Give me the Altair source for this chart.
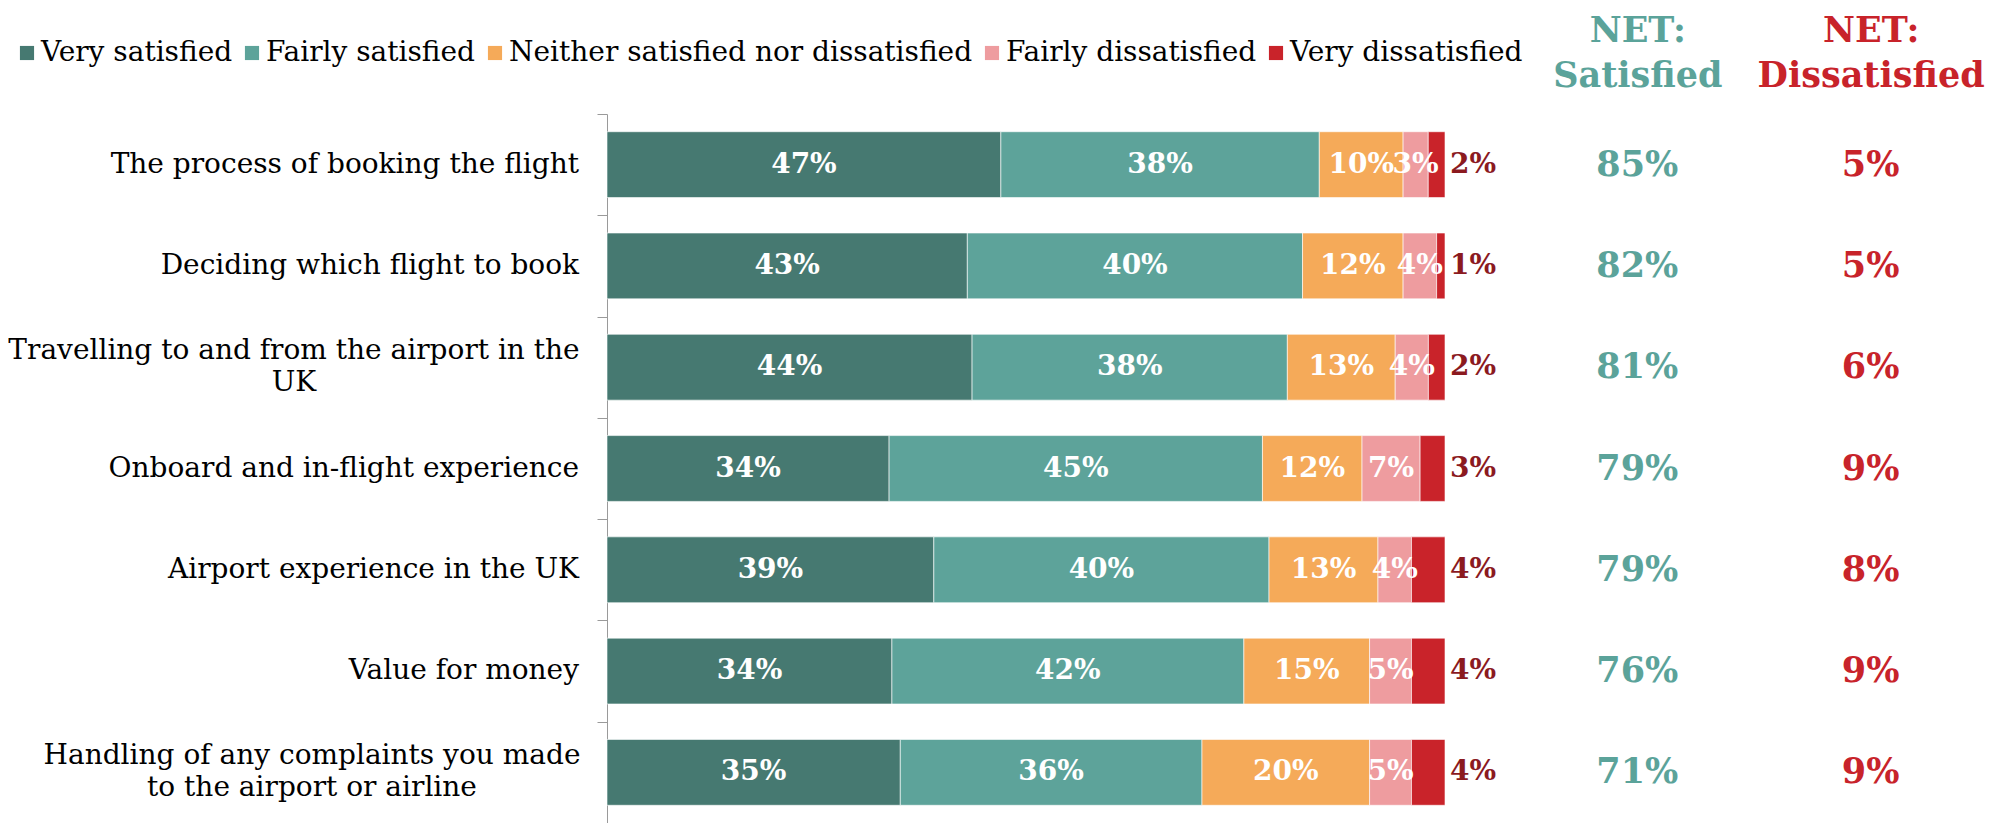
import altair as alt
import pandas as pd

categories = [
    "The process of booking the flight",
    "Deciding which flight to book",
    "Travelling to and from the airport in the\nUK",
    "Onboard and in-flight experience",
    "Airport experience in the UK",
    "Value for money",
    "Handling of any complaints you made\nto the airport or airline",
]
series = ["Very satisfied", "Fairly satisfied", "Neither satisfied nor dissatisfied",
          "Fairly dissatisfied", "Very dissatisfied"]
very_sat = [47, 43, 44, 34, 39, 34, 35]
fairly_sat = [38, 40, 38, 45, 40, 42, 36]
neither = [10, 12, 13, 12, 13, 15, 20]
fairly_dis = [3, 4, 4, 7, 4, 5, 5]
very_dis = [2, 1, 2, 3, 4, 4, 4]
net_cols = ["NET: Satisfied", "NET: Dissatisfied"]
net_sat = [85, 82, 81, 79, 79, 76, 71]
net_dis = [5, 5, 6, 9, 8, 9, 9]

colors = ["#467971", "#5DA39A", "#F5AA59", "#EE9C9F", "#C9232A"]
net_colors = ["#5BA39A", "#C8232A"]
FONT = "DejaVu Serif"
PLOT_W = 838
PLOT_H = 709
LABEL_SIZE = 28
LINE_H = 32
LABEL_GAP = 28
# half width (px) of the first line of the wrapped labels, used to centre them
wrap_half_width = {2: 285, 6: 267}
STEP = PLOT_H / len(categories)

rows = []
for i, cat in enumerate(categories):
    vals = [very_sat[i], fairly_sat[i], neither[i], fairly_dis[i], very_dis[i]]
    total = sum(vals)
    cum = 0
    for s, v in zip(series, vals):
        start = cum / total * 100
        cum += v
        end = cum / total * 100
        rows.append({"category": cat, "series": s, "value": v, "start": start,
                     "end": end, "mid": (start + end) / 2, "label": f"{v}%",
                     "last": s == series[-1]})
df = pd.DataFrame(rows)

lab_rows = []
for i, cat in enumerate(categories):
    n = len(cat.split("\n"))
    lab_rows.append({"category": cat, "multi": n > 1,
                     "yoff": STEP / 2 - (n - 1) * LINE_H / 2,
                     "xoff": -wrap_half_width.get(i, 0)})
ldf = pd.DataFrame(lab_rows)

net_rows = []
for i, cat in enumerate(categories):
    net_rows.append({"category": cat, "col": net_cols[0], "label": f"{net_sat[i]}%"})
    net_rows.append({"category": cat, "col": net_cols[1], "label": f"{net_dis[i]}%"})
ndf = pd.DataFrame(net_rows)

yscale = alt.Scale(domain=categories, paddingInner=0, paddingOuter=0)

y_main = alt.Y("category:N", sort=categories, scale=yscale,
               axis=alt.Axis(title=None, labels=False, tickBand="extent",
                             domainColor="#9a9a9a", tickColor="#9a9a9a", tickSize=10))
y_plain = alt.Y("category:N", sort=categories, scale=yscale)
xscale = alt.Scale(domain=[0, 100], nice=False, zero=False)

base = alt.Chart(df).properties(width=PLOT_W, height=PLOT_H)

bars = base.mark_bar(stroke="#ffffff", strokeWidth=1, strokeOpacity=0.6,
                     height=alt.RelativeBandSize(0.65)).encode(
    y=y_main,
    x=alt.X("start:Q", scale=xscale, axis=None),
    x2="end:Q",
    color=alt.Color("series:N", scale=alt.Scale(domain=series, range=colors),
                    legend=alt.Legend(orient="none", direction="horizontal", columns=5,
                                      legendX=-594, legendY=-75, title=None,
                                      symbolType="square", symbolSize=200,
                                      symbolStrokeWidth=0, labelFont=FONT,
                                      labelFontSize=28, labelColor="#000000",
                                      labelLimit=1000, columnPadding=5, labelOffset=0)),
)

inner_labels = base.transform_filter("!datum.last").mark_text(
    font=FONT, fontSize=28, fontWeight="bold", color="#ffffff"
).encode(y=y_plain, x=alt.X("mid:Q", scale=xscale), text="label:N")

end_labels = base.transform_filter("datum.last").mark_text(
    font=FONT, fontSize=28, fontWeight="bold", color="#8B1A1F", align="left", dx=5
).encode(y=y_plain, x=alt.X("end:Q", scale=xscale), text="label:N")

lab_base = alt.Chart(ldf).transform_calculate(lines="split(datum.category, '\\n')")

cat_single = lab_base.transform_filter("!datum.multi").mark_text(
    font=FONT, fontSize=LABEL_SIZE, color="#000000", align="right", baseline="middle"
).encode(y=y_plain, x=alt.value(-LABEL_GAP), text="lines:N")

cat_multi = lab_base.transform_filter("datum.multi").mark_text(
    font=FONT, fontSize=LABEL_SIZE, color="#000000", align="center", baseline="middle",
    lineHeight=LINE_H
).encode(y=y_plain, x=alt.value(-LABEL_GAP),
         xOffset=alt.XOffset("xoff:Q", scale=None),
         yOffset=alt.YOffset("yoff:Q", scale=None),
         text="lines:N")

main = alt.layer(bars, inner_labels, end_labels, cat_single, cat_multi)

net = alt.Chart(ndf).mark_text(font=FONT, fontSize=35, fontWeight="bold").encode(
    y=alt.Y("category:N", sort=categories, scale=yscale, axis=None),
    x=alt.X("col:N", sort=net_cols, scale=alt.Scale(type="point", padding=0.25),
            axis=alt.Axis(orient="top", title=None, labelExpr="split(datum.label, ' ')",
                          domain=False, ticks=False, labelAngle=0, labelFont=FONT,
                          labelFontSize=35, labelFontWeight="bold", labelLineHeight=45,
                          labelPadding=66, labelLimit=1000,
                          labelColor={"condition": {"test": "datum.value == 'NET: Satisfied'",
                                                    "value": net_colors[0]},
                                      "value": net_colors[1]})),
    text="label:N",
    color=alt.Color("col:N", scale=alt.Scale(domain=net_cols, range=net_colors), legend=None),
).properties(width=350, height=PLOT_H)

chart = alt.hconcat(main, net, spacing=134, bounds="flush").resolve_scale(
    color="independent"
).configure(background="#ffffff", padding={"left": 0, "top": 5, "right": 5, "bottom": 0}
).configure_view(stroke=None)

chart.save("out.html", embed_options={"renderer": "svg", "actions": False})
